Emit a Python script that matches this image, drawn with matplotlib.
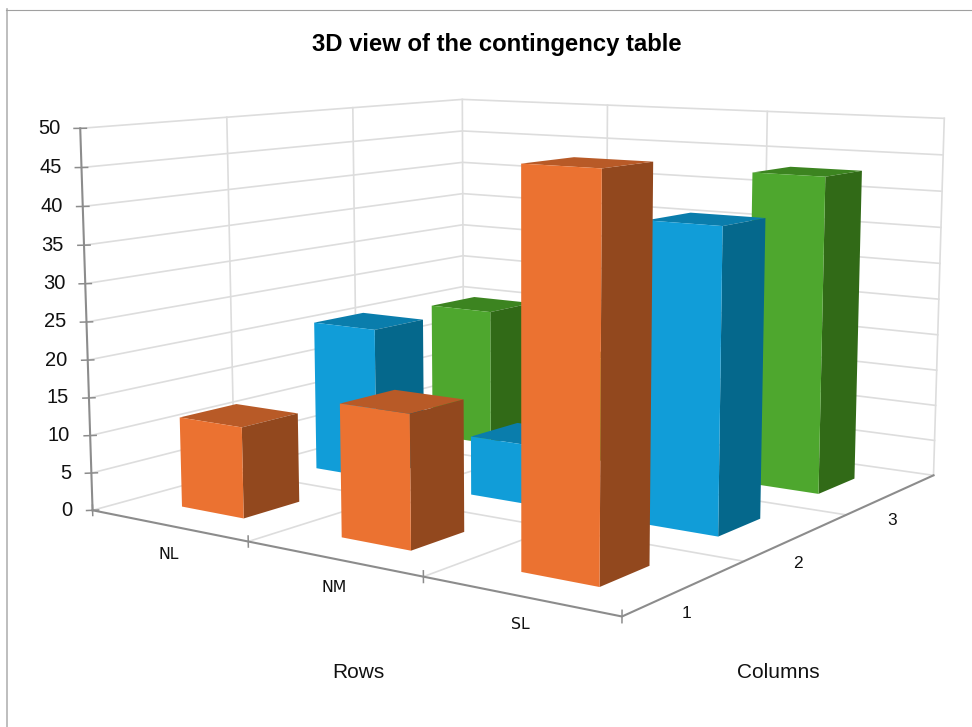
import matplotlib
matplotlib.use('Agg')
import matplotlib.pyplot as plt
from matplotlib.lines import Line2D
from mpl_toolkits.mplot3d import proj3d

plt.rcParams['font.family'] = ['Liberation Sans', 'DejaVu Sans']

row_labels = ['NL', 'NM', 'SL']
col_labels = ['1', '2', '3']
z_ticks = [0, 5, 10, 15, 20, 25, 30, 35, 40, 45, 50]

# one list per column, in row order
col1_vals = [12, 17, 48]
col2_vals = [21, 8, 39]
col3_vals = [20, 15, 43]

grid_c = '#dddddd'
axis_c = '#8c8c8c'
palette = [('#eb7231', '#92481e', '#b85a27'),
           ('#119dd8', '#05688c', '#0a7dac'),
           ('#4ea72e', '#316a17', '#3c8420')]

fig = plt.figure(figsize=(9.72, 7.27), dpi=100)
ax = fig.add_axes([0.0598, -0.0722, 0.9402, 1.2571], projection='3d')
ax.set_xlim(0, 3)
ax.set_ylim(0, 3)
ax.set_zlim(0, 50)
ax.view_init(8.828, -55.089)
ax.set_proj_type('persp', focal_length=0.429)
ax.set_box_aspect((1.642, 1.631, 1))
ax.set_axis_off()
ax.computed_zorder = False
M = ax.get_proj()


def label3d(x, y, z, text, dx, dy, **kw):
    "Put a text at a 3D point, shifted by dx, dy pixels."
    u, v, _ = proj3d.proj_transform(x, y, z, M)
    ax.annotate(text, (u, v), xytext=(dx * 0.72, dy * 0.72), textcoords='offset points',
                annotation_clip=False, **kw)


# walls and floor
for z in z_ticks:
    ax.plot([0, 0, 3], [0, 3, 3], [z, z, z], color=grid_c, lw=1.2, zorder=1)
ax.plot([0, 0], [3, 3], [0, 50], color=grid_c, lw=1.2, zorder=1)
ax.plot([3, 3], [3, 3], [0, 50], color=grid_c, lw=1.2, zorder=1)
for t in [1, 2]:
    ax.plot([0, 0], [t, t], [0, 50], color=grid_c, lw=1.2, zorder=1)
    ax.plot([t, t], [3, 3], [0, 50], color=grid_c, lw=1.2, zorder=1)
    ax.plot([t, t], [0, 3], [0, 0], color=grid_c, lw=1.2, zorder=1)
    ax.plot([0, 3], [t, t], [0, 0], color=grid_c, lw=1.2, zorder=1)

# axis lines and ticks
ax.plot([0, 0], [0, 0], [0, 50], color=axis_c, lw=1.5, zorder=2)
ax.plot([0, 3, 3], [0, 0, 3], [0, 0, 0], color=axis_c, lw=1.5, zorder=2)
for z in z_ticks:
    ax.plot([-0.02, 0.02], [-0.02, 0.02], [z, z], color=axis_c, lw=1.1, zorder=2)
    label3d(0, 0, z, str(z), -20, 0, ha='right', va='center', fontsize=14.5, color='#111111')
for t in [0, 1, 2, 3]:
    ax.plot([t, t], [0, 0], [-0.7, 0.7], color=axis_c, lw=1.1, zorder=2)

for i, name in enumerate(row_labels):
    label3d(i + 0.5, 0, 0, name, 1, -29, ha='center', va='center', fontsize=11.3,
            family='DejaVu Sans', color='#111111')
for j, name in enumerate(col_labels):
    label3d(3, j + 0.5, 0, name, 1, -26, ha='center', va='center', fontsize=12.4, color='#111111')

# bars, back to front
vals = [col1_vals, col2_vals, col3_vals]
w, d = 0.4, 0.4
none = (0, 0, 0, 0)
order = 10
for j in [2, 1, 0]:
    front, side, top = palette[j]
    for i in [0, 1, 2]:
        ax.bar3d(i + 0.5 - w / 2, j + 0.5 - d / 2, 0, w, d, vals[j][i],
                 color=[none, top, front, none, none, side], shade=False, linewidth=0, zorder=order)
        order += 1

# outer frame, only left and top edges show
fig.add_artist(Line2D([6.7 / 972, 6.7 / 972], [0, 1 - 9 / 727], color='#b3b3b3', lw=1.2,
                      transform=fig.transFigure))
fig.add_artist(Line2D([6 / 972, 1], [1 - 9.5 / 727, 1 - 9.5 / 727], color='#a0a0a0', lw=0.8,
                      transform=fig.transFigure))

fig.text(497 / 972, 1 - 44 / 727, '3D view of the contingency table', ha='center', va='center',
         fontsize=17.2, fontweight='bold', color='black')
fig.text(358 / 972, 1 - 672 / 727, 'Rows', ha='center', va='center', fontsize=15, color='#111111')
fig.text(778 / 972, 1 - 672 / 727, 'Columns', ha='center', va='center', fontsize=15, color='#111111')

fig.savefig('out.png', dpi=100)
